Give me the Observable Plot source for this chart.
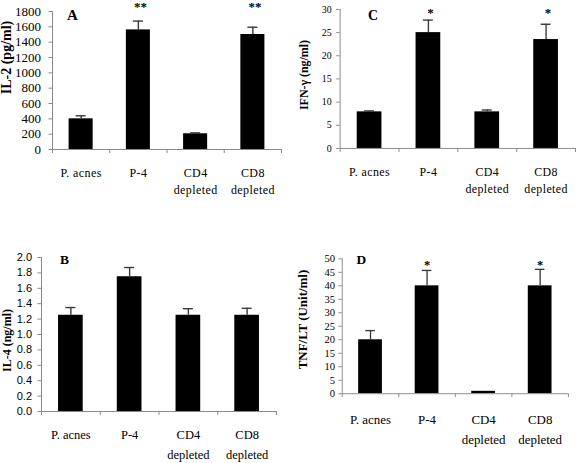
<!DOCTYPE html>
<html><head><meta charset="utf-8">
<script src="https://cdn.jsdelivr.net/npm/d3@7"></script>
<script src="https://cdn.jsdelivr.net/npm/@observablehq/plot@0.6"></script>
<style>
body{margin:0;background:#fff}
#fig{position:relative;width:576px;height:463px;overflow:hidden;background:#fff}
#fig > div{position:absolute}
</style></head><body><div id="fig"></div>
<script>
const categories = ["P. acnes", "P-4", "CD4 depleted", "CD8 depleted"];
const labelLine1 = ["P. acnes", "P-4", "CD4", "CD8"];
const labelLine2 = ["", "", "depleted", "depleted"];

const il2Values = [400, 1560, 205, 1500];
const il2Errors = [40, 115, 12, 95];
const il2Stars = ["", "**", "", "**"];
const il2Ticks = [0, 200, 400, 600, 800, 1000, 1200, 1400, 1600, 1800];

const ifnValues = [7.9, 25, 7.9, 23.5];
const ifnErrors = [0.2, 2.7, 0.4, 3.3];
const ifnStars = ["", "*", "", "*"];
const ifnTicks = [0, 5, 10, 15, 20, 25, 30];

const il4Values = [1.25, 1.75, 1.25, 1.25];
const il4Errors = [0.1, 0.12, 0.085, 0.09];
const il4Stars = ["", "", "", ""];
const il4Ticks = [0, 0.2, 0.4, 0.6, 0.8, 1.0, 1.2, 1.4, 1.6, 1.8, 2.0];

const tnfValues = [20, 40, 0.9, 40];
const tnfErrors = [3.4, 5.7, 0, 6.1];
const tnfStars = ["", "*", "", "*"];
const tnfTicks = [0, 5, 10, 15, 20, 25, 30, 35, 40, 45, 50];

const SERIF = "'Liberation Serif','Times New Roman',serif";
const SANS = "'Liberation Sans',Arial,sans-serif";

function panel(c) {
  const data = categories.map((cat, i) => ({cat, i, v: c.values[i], e: c.errors[i], s: c.stars[i],
    l1: labelLine1[i], l2: labelLine2[i]}));
  const capHalf = 5 / c.step; // cap half width in x units
  const svg = Plot.plot({
    width: c.width, height: c.height,
    marginLeft: c.ml, marginRight: c.mr, marginTop: c.mt, marginBottom: c.mb,
    style: {fontFamily: SERIF, fontSize: "12px", color: "black", background: "transparent", overflow: "visible"},
    x: {domain: [0, 4], axis: null},
    y: {domain: [0, c.ticks[c.ticks.length - 1]], axis: null},
    marks: [
      Plot.rect(data, {x1: d => d.i + 0.29, x2: d => d.i + 0.71, y1: 0, y2: "v", fill: "black"}),
      Plot.ruleX(data.filter(d => d.e > 0), {x: d => d.i + 0.5, y1: "v", y2: d => d.v + d.e, stroke: "#3a3a3a", strokeWidth: 1.4}),
      Plot.ruleY(data.filter(d => d.e > 0), {y: d => d.v + d.e, x1: d => d.i + 0.5 - capHalf, x2: d => d.i + 0.5 + capHalf, stroke: "#3a3a3a", strokeWidth: 1.4}),
      Plot.ruleX([0], {stroke: "#8a8a8a"}),
      Plot.ruleY([0], {stroke: "#8a8a8a"}),
      Plot.axisY({ticks: c.ticks, tickSize: 3.5, tickPadding: c.ytp, stroke: "#8a8a8a", fill: "black",
        fontSize: c.yfs, fontFamily: c.yff, tickFormat: c.fmt, label: null}),
      Plot.axisX({ticks: [0, 1, 2, 3, 4], tickSize: 4, tickFormat: () => "", stroke: "#8a8a8a", label: null}),
      Plot.text(data, {x: d => d.i + 0.5, text: "l1", frameAnchor: "bottom", lineAnchor: "middle", dy: c.r1,
        fontSize: c.xfs, fill: "black", className: "catlab"}),
      Plot.text(data.filter(d => d.l2), {x: d => d.i + 0.5, text: "l2", frameAnchor: "bottom", lineAnchor: "middle", dy: c.r2,
        fontSize: c.xfs, fill: "black", className: "catlab"}),
      Plot.text(data.filter(d => d.s), {x: d => d.i + 0.5, text: "s", frameAnchor: "top", lineAnchor: "middle",
        dy: c.starDy, dx: c.starDx, fontWeight: "bold", fontSize: 13, fill: "black"}),
      Plot.text([c.letter], {frameAnchor: "top-left", lineAnchor: "middle", dx: c.letDx, dy: c.letDy, textAnchor: "middle",
        fontWeight: "bold", fontSize: c.letFs, fill: "black"}),
      Plot.text([c.label], {frameAnchor: "left", lineAnchor: "middle", rotate: -90, dx: c.labDx, dy: c.labDy, textAnchor: "middle",
        fontWeight: "bold", fontSize: c.labFs, fill: "black"})
    ]
  });
  svg.querySelectorAll('.catlab').forEach(g => g.style.letterSpacing = c.ls + "px");
  const div = document.createElement("div");
  div.style.left = c.left + "px";
  div.style.top = c.top + "px";
  div.appendChild(svg);
  document.getElementById("fig").appendChild(div);
}

// Panel A: IL-2
panel({left: 0, top: 0, width: 288, height: 231, ml: 52, mr: 7, mt: 11, mb: 82, step: 57.25,
  values: il2Values, errors: il2Errors, stars: il2Stars, ticks: il2Ticks, fmt: d3.format("d"),
  ytp: 8, yfs: 13, yff: SERIF, r1: 24, r2: 40.5, xfs: 12, ls: 0.4,
  starDx: 2, starDy: -4.5, letter: "A", letDx: 20, letDy: 4, letFs: 15,
  label: "IL-2 (pg/ml)", labDx: -46, labDy: -23, labFs: 14});

// Panel C: IFN-gamma
panel({left: 288, top: 0, width: 290, height: 231, ml: 52, mr: 1, mt: 9, mb: 82, step: 59.25,
  values: ifnValues, errors: ifnErrors, stars: ifnStars, ticks: ifnTicks, fmt: d3.format("d"),
  ytp: 5, yfs: 10, yff: SERIF, r1: 24, r2: 40.5, xfs: 12, ls: 0.4,
  starDx: 2, starDy: 3, letter: "C", letDx: 33, letDy: 6, letFs: 14,
  label: "IFN-\u03b3 (ng/ml)", labDx: -36, labDy: -4, labFs: 12});

// Panel B: IL-4
panel({left: 0, top: 231, width: 288, height: 231, ml: 41, mr: 12, mt: 26, mb: 51, step: 58.75,
  values: il4Values, errors: il4Errors, stars: il4Stars, ticks: il4Ticks, fmt: d3.format(".1f"),
  ytp: 6, yfs: 11, yff: SANS, r1: 23, r2: 43, xfs: 12.5, ls: 0,
  starDx: 0, starDy: 0, letter: "B", letDx: 23, letDy: 2, letFs: 13.5,
  label: "IL-4 (ng/ml)", labDx: -34, labDy: 6, labFs: 12});

// Panel D: TNF/LT
panel({left: 288, top: 231, width: 300, height: 231, ml: 56, mr: 8.4, mt: 28.5, mb: 62, step: 58.9,
  values: tnfValues, errors: tnfErrors, stars: tnfStars, ticks: tnfTicks, fmt: d3.format("d"),
  ytp: 4, yfs: 11, yff: SERIF, r1: 27.4, r2: 48.4, xfs: 13.5, ls: 0,
  starDx: 0, starDy: 6.7, letter: "D", letDx: 20, letDy: 0.5, letFs: 14,
  label: "TNF/LT (Unit/ml)", labDx: -41.5, labDy: -7, labFs: 13.5});
</script></body></html>
